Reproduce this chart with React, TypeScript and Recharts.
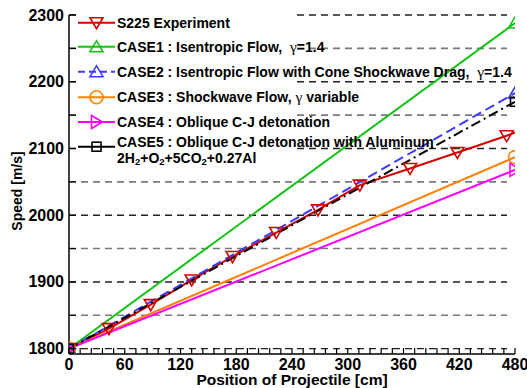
import { LineChart, Line, XAxis, YAxis, CartesianGrid } from "recharts";

// S225 experiment: markers on every point but the last one
const s225X = [0, 43, 88, 132, 176, 223, 268, 313, 367, 418, 471, 480];
const s225V = [1800, 1830, 1866, 1903, 1938, 1974, 2008, 2045, 2070, 2094, 2119, 2124];

const caseX = [0, 480];
const case1V = [1800, 2288];
const case2V = [1800, 2183];
const case3V = [1800, 2087];
const case4V = [1800, 2068];
const case5V = [1800, 2170];

const yMajor = [1800, 1900, 2000, 2100, 2200, 2300];
const yMinor = [1850, 1950, 2050, 2150, 2250];

const xTicks = Array.from({ length: 41 }, (_, i) => i * 12);
const yTicks = [...yMajor, ...yMinor].sort((a, b) => a - b);

const FONT = "'Liberation Sans', Arial, sans-serif";

const RED = "#d40000";
const GREEN = "#12c312";
const BLUE = "#3b3bff";
const ORANGE = "#ff8000";
const MAGENTA = "#ff00ff";
const BLACK = "#000000";

type MarkerKind = "down" | "up" | "circle" | "right" | "square";

function markerShape(kind: MarkerKind, cx: number, cy: number, color: string, key?: string) {
  const sw = 1.6;
  if (kind === "circle")
    return <circle key={key} cx={cx} cy={cy} r={6.5} fill="none" stroke={color} strokeWidth={sw} />;
  if (kind === "square")
    return <rect key={key} x={cx - 4.5} y={cy - 4.5} width={9} height={9} fill="none" stroke={color} strokeWidth={sw} />;
  let pts = "";
  if (kind === "down") pts = `${cx - 6.5},${cy - 5} ${cx + 6.5},${cy - 5} ${cx},${cy + 6}`;
  if (kind === "up") pts = `${cx - 6.5},${cy + 5} ${cx + 6.5},${cy + 5} ${cx},${cy - 6}`;
  if (kind === "right") pts = `${cx - 5},${cy - 6.5} ${cx - 5},${cy + 6.5} ${cx + 6},${cy}`;
  return <polygon key={key} points={pts} fill="none" stroke={color} strokeWidth={sw} strokeLinejoin="miter" />;
}

const toRows = (xs: number[], vs: number[]) => xs.map((x, i) => ({ x, v: vs[i] }));

const series = [
  { id: "s225", data: toRows(s225X, s225V), color: RED, dash: undefined, marker: "down" as MarkerKind, skipLast: true },
  { id: "case1", data: toRows(caseX, case1V), color: GREEN, dash: undefined, marker: "up" as MarkerKind },
  { id: "case2", data: toRows(caseX, case2V), color: BLUE, dash: "10 5", marker: "up" as MarkerKind },
  { id: "case3", data: toRows(caseX, case3V), color: ORANGE, dash: undefined, marker: "circle" as MarkerKind },
  { id: "case4", data: toRows(caseX, case4V), color: MAGENTA, dash: undefined, marker: "right" as MarkerKind },
  { id: "case5", data: toRows(caseX, case5V), color: BLACK, dash: "10 4 2 4", marker: "square" as MarkerKind },
];

const XTick = (props: any) => {
  const { x, y, payload } = props;
  const major = payload.value % 60 === 0;
  return (
    <g>
      <line x1={x} x2={x} y1={y} y2={y - 6} stroke="#000" strokeWidth={1.2} />
      {major && (
        <text x={x} y={y + 15.5} textAnchor="middle" fontFamily={FONT} fontWeight="bold" fontSize={16} fill="#000">
          {payload.value}
        </text>
      )}
    </g>
  );
};

const YTick = (props: any) => {
  const { x, y, payload } = props;
  const major = payload.value % 100 === 0;
  return (
    <g>
      <line x1={x} x2={x + 7} y1={y} y2={y} stroke="#000" strokeWidth={1.2} />
      {major && (
        <text x={x - 5} y={y + 5.5} textAnchor="end" fontFamily={FONT} fontWeight="bold" fontSize={16} fill="#000">
          {payload.value}
        </text>
      )}
    </g>
  );
};

const gamma = (
  <tspan fontFamily="'Liberation Serif', 'Times New Roman', serif" fontWeight="normal" fontSize={15.5}>
    γ
  </tspan>
);

const LEG_FS = 14;

const legendRows = [
  { y: 22.7, color: RED, dash: undefined, marker: "down" as MarkerKind, text: <tspan>S225 Experiment</tspan> },
  {
    y: 46.7, color: GREEN, dash: undefined, marker: "up" as MarkerKind,
    text: <tspan>{"CASE1 : Isentropic Flow,  "}{gamma}=1.4</tspan>,
  },
  {
    y: 71.7, color: BLUE, dash: "7 4", marker: "up" as MarkerKind,
    text: <tspan>{"CASE2 : Isentropic Flow with Cone Shockwave Drag,  "}{gamma}=1.4</tspan>,
  },
  {
    y: 97.3, color: ORANGE, dash: undefined, marker: "circle" as MarkerKind,
    text: <tspan>{"CASE3 : Shockwave Flow, "}{gamma} variable</tspan>,
  },
  { y: 122, color: MAGENTA, dash: undefined, marker: "right" as MarkerKind, text: <tspan>CASE4 : Oblique C-J detonation</tspan> },
  { y: 146.7, color: BLACK, dash: undefined, marker: "square" as MarkerKind, text: null },
];

function LegendOverlay() {
  return (
    <svg width={527} height={180} style={{ position: "absolute", left: 0, top: 0, pointerEvents: "none" }}>
      <rect x={76} y={10} width={216} height={157} fill="#fff" />
      {legendRows.map((r, i) => (
        <g key={i}>
          <line x1={78} x2={115} y1={r.y} y2={r.y} stroke={r.color} strokeWidth={2} strokeDasharray={r.dash} />
          {markerShape(r.marker, 96.5, r.y, r.color)}
          {r.text && (
            <text x={117} y={r.y + 5.1} fontFamily={FONT} fontWeight="bold" fontSize={LEG_FS} fill="#000" style={{ whiteSpace: "pre" }}>
              {r.text}
            </text>
          )}
        </g>
      ))}
      <text x={117} y={146.8} fontFamily={FONT} fontWeight="bold" fontSize={LEG_FS} fill="#000">
        CASE5 : Oblique C-J detonation with Aluminum
      </text>
      <text x={117} y={162.6} fontFamily={FONT} fontWeight="bold" fontSize={LEG_FS} fill="#000">
        2H<tspan fontSize={9.5} dy={2.5}>2</tspan>
        <tspan dy={-2.5}>+O</tspan>
        <tspan fontSize={9.5} dy={2.5}>2</tspan>
        <tspan dy={-2.5}>+5CO</tspan>
        <tspan fontSize={9.5} dy={2.5}>2</tspan>
        <tspan dy={-2.5}>+0.27Al</tspan>
      </text>
    </svg>
  );
}

export default function App() {
  return (
    <div style={{ position: "absolute", left: 0, top: 0, width: 527, height: 388, background: "#fff", overflow: "hidden" }}>
      <LineChart width={527} height={388} margin={{ top: 15, right: 12, bottom: 0, left: 8 }}>
        <CartesianGrid
          horizontalValues={yMajor}
          vertical={false}
          stroke="#222"
          strokeWidth={1.4}
          strokeDasharray="7 5"
          x={69}
          width={438}
        />
        <CartesianGrid
          horizontalValues={yMinor}
          vertical={false}
          stroke="#7a7a7a"
          strokeWidth={1.6}
          strokeDasharray="7 5"
          x={69}
          width={438}
        />
        <XAxis
          type="number"
          dataKey="x"
          domain={[0, 480]}
          ticks={xTicks}
          interval={0}
          tick={<XTick />}
          tickSize={0}
          tickMargin={0}
          tickLine={false}
          axisLine={{ stroke: "#000", strokeWidth: 1.5 }}
          height={34}
          allowDataOverflow
        />
        <YAxis
          type="number"
          domain={[1792, 2300]}
          ticks={yTicks}
          interval={0}
          tick={<YTick />}
          tickSize={0}
          tickMargin={0}
          tickLine={false}
          axisLine={{ stroke: "#000", strokeWidth: 1.5 }}
          width={61}
          allowDataOverflow
        />
        {series.map((s) => (
          <Line
            key={s.id}
            data={s.data}
            dataKey="v"
            type="linear"
            stroke={s.color}
            strokeWidth={2}
            strokeDasharray={s.dash}
            isAnimationActive={false}
            activeDot={false}
            dot={(p: any) => {
              if (s.skipLast && p.index === s.data.length - 1) return <g key={`${s.id}-${p.index}`} />;
              return markerShape(s.marker, p.cx, p.cy, s.color, `${s.id}-${p.index}`);
            }}
          />
        ))}
      </LineChart>
      <LegendOverlay />
      <div
        style={{
          position: "absolute",
          left: 0,
          top: 373,
          width: 584,
          textAlign: "center",
          fontFamily: FONT,
          fontWeight: "bold",
          fontSize: 15.5,
          lineHeight: "14px",
        }}
      >
        Position of Projectile [cm]
      </div>
      <div
        style={{
          position: "absolute",
          left: 17,
          top: 191,
          transform: "translate(-50%, -50%) rotate(-90deg)",
          fontFamily: FONT,
          fontWeight: "bold",
          fontSize: 14,
          whiteSpace: "nowrap",
        }}
      >
        Speed [m/s]
      </div>
    </div>
  );
}
